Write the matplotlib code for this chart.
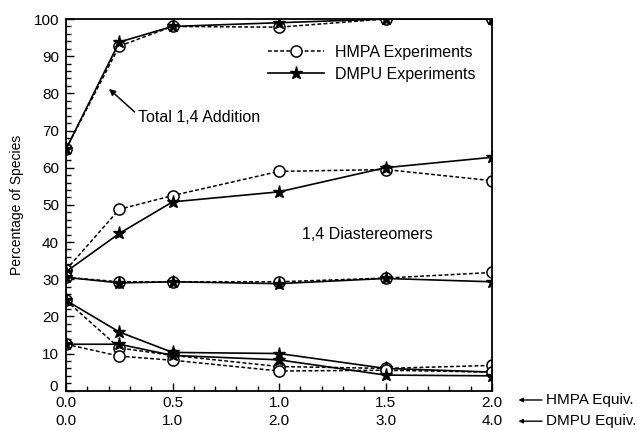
import numpy as np
import matplotlib
matplotlib.use('Agg')
import matplotlib.pyplot as plt
from matplotlib.ticker import MultipleLocator, FuncFormatter
import matplotlib.transforms as mtransforms

plt.rcParams['font.family'] = ['Liberation Sans', 'DejaVu Sans']

# HMPA equivalents (x axis), DMPU row is just twice that
x = [0.0, 0.25, 0.5, 1.0, 1.5, 2.0]

# HMPA experiments
hmpa_total = [65, 92.7, 98, 97.8, 100, 100]
hmpa_diast = [32.5, 48.8, 52.5, 59, 59.5, 56.5]
hmpa_30 = [30.5, 29.3, 29.3, 29.3, 30.3, 31.8]
hmpa_desc = [24.3, 11.5, 9.5, 6.5, 6.0, 6.8]
hmpa_low = [12.5, 9.3, 8.2, 5.3, 5.5, 5.0]

# DMPU experiments
dmpu_total = [65, 93.8, 98, 99, 100, 100]
dmpu_diast = [32.0, 42.3, 50.8, 53.5, 60, 62.8]
dmpu_30 = [30.5, 29.0, 29.3, 28.8, 30.2, 29.3]
dmpu_desc = [24.3, 15.8, 10.3, 10.0, 6.0, 5.0]
dmpu_low = [12.5, 12.5, 9.5, 8.3, 4.2, 4.0]

hmpa_ticks = [0.0, 0.5, 1.0, 1.5, 2.0]
hmpa_labels = ['0.0', '0.5', '1.0', '1.5', '2.0']
dmpu_labels = ['0.0', '1.0', '2.0', '3.0', '4.0']

fig = plt.figure(figsize=(6.42, 4.3), dpi=100)
ax = fig.add_axes([0.1028, 0.0914, 0.6636, 0.8644])

hm = [hmpa_total, hmpa_diast, hmpa_30, hmpa_desc, hmpa_low]
dm = [dmpu_total, dmpu_diast, dmpu_30, dmpu_desc, dmpu_low]

for i in range(5):
    ax.plot(x, hm[i], color='black', linestyle=(0, (2.5, 1.5)), linewidth=1.1,
            marker='o', markersize=8, markerfacecolor='white',
            markeredgecolor='black', markeredgewidth=1.1,
            label='HMPA Experiments' if i == 0 else None)
    ax.plot(x, dm[i], color='black', linestyle='-', linewidth=1.2,
            marker='*', markersize=9.5, markerfacecolor='black',
            markeredgecolor='black',
            label='DMPU Experiments' if i == 0 else None)

ax.set_xlim(0, 2.0)
ax.set_ylim(0, 100)
ax.yaxis.set_major_locator(MultipleLocator(10))
ax.yaxis.set_minor_locator(MultipleLocator(2))
# the "0" is drawn on its own below, nudged up off the "0.0"
ax.yaxis.set_major_formatter(FuncFormatter(lambda v, p: '' if v == 0 else '%d' % v))
ax.xaxis.set_minor_locator(MultipleLocator(0.1))
ax.set_xticks(hmpa_ticks)
ax.set_xticklabels(hmpa_labels)
ax.tick_params(which='both', direction='in', top=False, right=False,
               labelsize=11, width=1)
ax.tick_params(axis='x', which='major', pad=4)
ax.tick_params(axis='y', which='major', pad=5)
ax.tick_params(which='major', length=6)
ax.tick_params(which='minor', length=3.5)
for s in ax.spines.values():
    s.set_linewidth(1.3)

ax.annotate('0', xy=(0, 0), xycoords=('axes fraction', 'data'),
            xytext=(-5.5, 3), textcoords='offset points',
            ha='right', va='center', fontsize=11)

ax.set_ylabel('Percentage of Species', fontsize=10, labelpad=7)

# second row of x labels (DMPU equivalents)
trans = mtransforms.blended_transform_factory(ax.transData, ax.transAxes)
for t, lab in zip(hmpa_ticks, dmpu_labels):
    ax.text(t, -0.082, lab, transform=trans, ha='center', va='center',
            fontsize=11, clip_on=False)

# equivalents labels with arrows
for yy, lab in [(-0.025, 'HMPA Equiv.'), (-0.082, 'DMPU Equiv.')]:
    ax.annotate(lab, xy=(1.062, yy), xycoords='axes fraction',
                xytext=(1.127, yy), textcoords='axes fraction',
                va='center', ha='left', fontsize=11,
                arrowprops=dict(arrowstyle='-|>', color='black', lw=1.0,
                                mutation_scale=6, shrinkA=1, shrinkB=0))

ax.annotate('', xy=(0.202, 81.2), xytext=(0.322, 75.0),
            arrowprops=dict(arrowstyle='-|>', color='black', lw=1.1,
                            mutation_scale=9, shrinkA=0, shrinkB=0))
ax.text(0.338, 73.4, 'Total 1,4 Addition', fontsize=11.5, va='center', ha='left')
ax.text(1.413, 41.9, '1,4 Diastereomers', fontsize=11.5, ha='center', va='center')

ax.legend(loc='upper left', bbox_to_anchor=(0.44, 0.97), frameon=False,
          fontsize=11.5, handlelength=3.5, handletextpad=0.7, labelspacing=0.45)

fig.savefig('out.png', dpi=100)
